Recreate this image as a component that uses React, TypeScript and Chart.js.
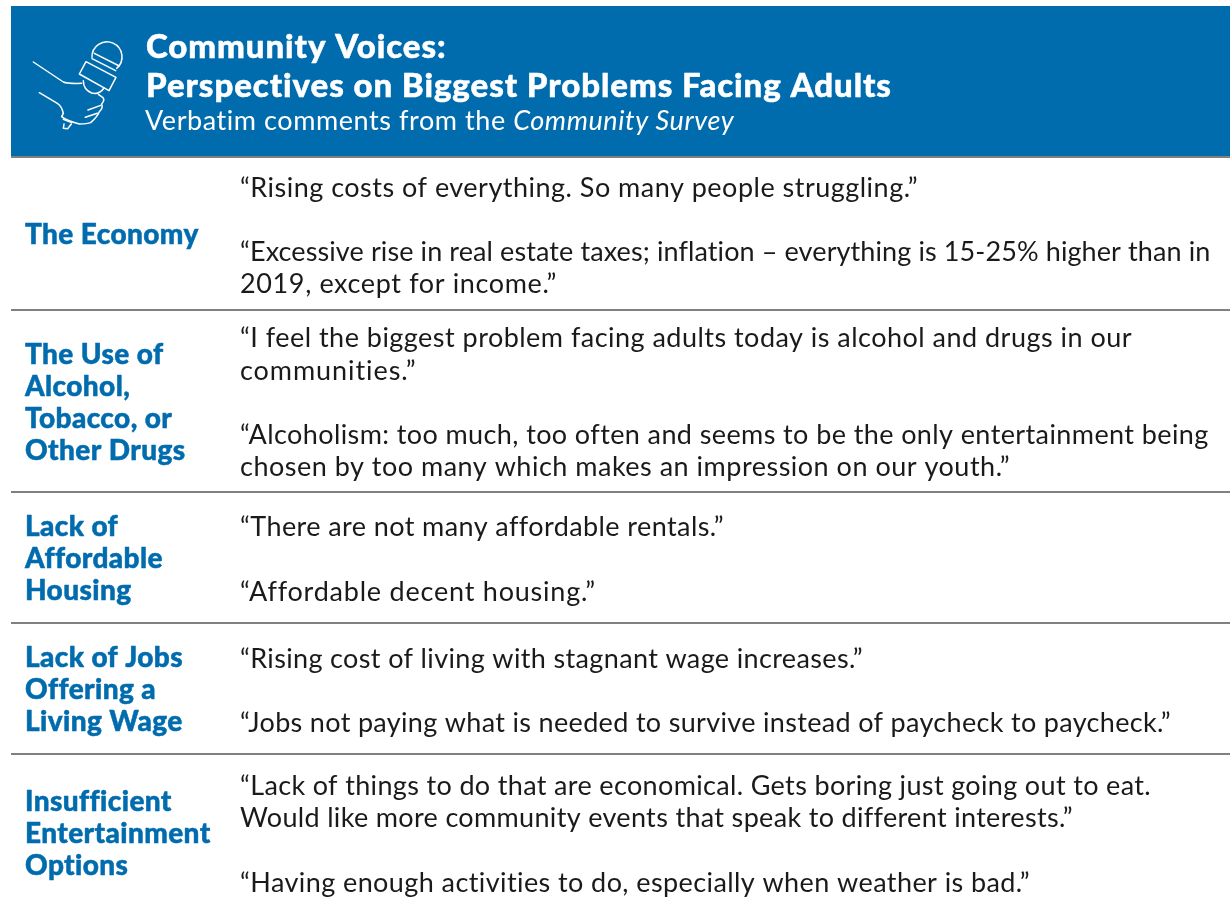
import React, { useEffect, useRef } from "react";
import { Chart, registerables } from "chart.js";

Chart.register(...registerables);

const titleLines = ["Community Voices:", "Perspectives on Biggest Problems Facing Adults"];
const subtitlePlain = "Verbatim comments from the ";
const subtitleItalic = "Community Survey";
const themes = [
  ["The Economy"],
  ["The Use of", "Alcohol,", "Tobacco, or", "Other Drugs"],
  ["Lack of", "Affordable", "Housing"],
  ["Lack of Jobs", "Offering a", "Living Wage"],
  ["Insufficient", "Entertainment", "Options"],
];
const comments = [
  ["“Rising costs of everything. So many people struggling.”", "“Excessive rise in real estate taxes; inflation – everything is 15-25% higher than in", "2019, except for income.”"],
  ["“I feel the biggest problem facing adults today is alcohol and drugs in our", "communities.”", "“Alcoholism: too much, too often and seems to be the only entertainment being", "chosen by too many which makes an impression on our youth.”"],
  ["“There are not many affordable rentals.”", "“Affordable decent housing.”"],
  ["“Rising cost of living with stagnant wage increases.”", "“Jobs not paying what is needed to survive instead of paycheck to paycheck.”"],
  ["“Lack of things to do that are economical. Gets boring just going out to eat.", "Would like more community events that speak to different interests.”", "“Having enough activities to do, especially when weather is bad.”"],
];

// layout only (pixel positions on the page)
const rulePositions = [156.5, 309.5, 491.5, 623, 754];
const themeBaselines = [[244], [364, 396, 428, 460], [536, 568, 600], [667, 699, 731], [811, 843, 875]];
const commentBaselines = [[197, 261, 293], [347, 380, 444, 476], [536, 601], [668, 732], [795, 827, 892]];
const commentRightEdges = [[918, 1211, 557], [1132, 417, 1208, 1010], [723, 595], [863, 1171], [1151, 1072, 1031]];
const BLUE = "#006CAE";
const FAMILY = "Lato";
const COMMENT_LEFT = 240;

const iconPaths = [
  "M100 186 L190 246 Q200 251 245 250",
  "M118 278 L172 310 Q185 318 190 340",
  "M190 340 L185 350 Q200 362 238 372 Q262 372 272 368 Q292 350 298 335 Q310 325 305 312 Q316 300 308 292 L295 283",
  "M258 185 L348 232 L327 272 L238 222 Z",
  "M250 242 Q250 268 275 279 Q298 285 312 264",
  "M283 160 L358 198",
  "M276 176 L347 212",
  "M276 172 A45 45 0 1 1 350 205",
  "M264 330 L302 316",
  "M256 352 L292 340",
  "M190 358 L215 368",
  "M192 372 L190 385 L203 386 L214 372",
];

function text(ctx: CanvasRenderingContext2D, s: string, x: number, y: number, font: string, color: string, spacing: number, embolden = 0) {
  ctx.font = font;
  ctx.fillStyle = color;
  (ctx as any).letterSpacing = spacing + "px";
  ctx.textAlign = "left";
  ctx.textBaseline = "alphabetic";
  ctx.fillText(s, x, y);
  if (embolden > 0) {
    ctx.strokeStyle = color;
    ctx.lineWidth = embolden;
    ctx.lineJoin = "round";
    ctx.strokeText(s, x, y);
  }
  return ctx.measureText(s).width;
}

function fitSpacing(ctx: CanvasRenderingContext2D, s: string, font: string, width: number) {
  ctx.font = font;
  (ctx as any).letterSpacing = "0px";
  return (width - ctx.measureText(s).width) / s.length;
}

const pagePlugin = {
  id: "page",
  beforeDraw(chart: any) {
    const ctx: CanvasRenderingContext2D = chart.ctx;
    const { x, y } = chart.scales;
    ctx.save();
    ctx.fillStyle = BLUE;
    ctx.fillRect(x.left, 6, x.right - x.left, y.getPixelForValue(rulePositions[0]) - 6);
    ctx.restore();
  },
  afterDraw(chart: any) {
    const ctx: CanvasRenderingContext2D = chart.ctx;
    ctx.save();
    // microphone icon
    ctx.save();
    ctx.scale(1 / 3, 1 / 3);
    ctx.strokeStyle = "#FFFFFF";
    ctx.lineWidth = 4.5;
    ctx.lineJoin = "round";
    ctx.lineCap = "round";
    iconPaths.forEach((d) => ctx.stroke(new Path2D(d)));
    ctx.restore();
    // banner text
    text(ctx, titleLines[0], 146, 58, `900 33px ${FAMILY}`, "#FFFFFF", 0.93, 0.5);
    text(ctx, titleLines[1], 146, 97, `900 33px ${FAMILY}`, "#FFFFFF", 0.93, 0.5);
    const w = text(ctx, subtitlePlain, 145, 130, `400 27px ${FAMILY}`, "#FFFFFF", 0.57);
    text(ctx, subtitleItalic, 145 + w, 130, `italic 400 27px ${FAMILY}`, "#FFFFFF", 0.57);
    // rows
    themes.forEach((lines, r) => {
      lines.forEach((line, i) => text(ctx, line, 25, themeBaselines[r][i], `900 28px ${FAMILY}`, BLUE, 0.4, 0.5));
    });
    const commentFont = `400 27px ${FAMILY}`;
    comments.forEach((lines, r) => {
      lines.forEach((line, i) => {
        const sp = fitSpacing(ctx, line, commentFont, commentRightEdges[r][i] - COMMENT_LEFT);
        text(ctx, line, COMMENT_LEFT, commentBaselines[r][i], commentFont, "#1A1A1A", sp);
      });
    });
    ctx.restore();
  },
};

export default function App() {
  const ref = useRef<HTMLCanvasElement>(null);
  useEffect(() => {
    document.body.style.margin = "0";
    const chart = new Chart(ref.current!, {
      type: "scatter",
      data: { datasets: [] },
      plugins: [pagePlugin],
      options: {
        animation: false,
        responsive: false,
        events: [],
        layout: { padding: { left: 11, right: 0, top: 0, bottom: 0 } },
        plugins: { legend: { display: false }, title: { display: false }, tooltip: { enabled: false } },
        scales: {
          x: { type: "linear", min: 11, max: 1230, display: false },
          y: {
            type: "linear",
            reverse: true,
            min: 0,
            max: 907,
            afterBuildTicks: (axis: any) => {
              axis.ticks = rulePositions.map((value) => ({ value }));
            },
            ticks: { display: false },
            border: { display: false },
            grid: { color: "#808080", lineWidth: 2, drawTicks: false },
          },
        },
      },
    } as any);
    return () => chart.destroy();
  }, []);
  return <canvas ref={ref} width={1230} height={907} style={{ display: "block" }} />;
}
